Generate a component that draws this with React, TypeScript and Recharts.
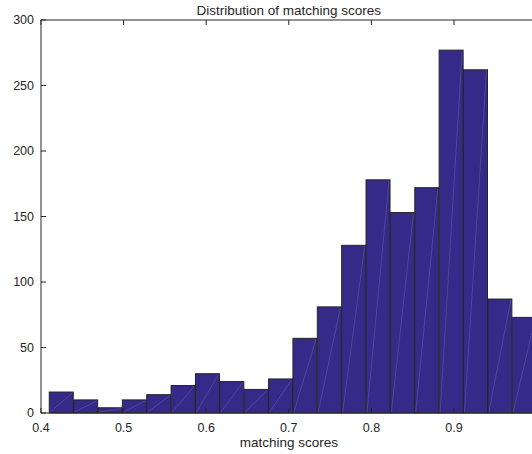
import React from 'react';
import { ComposedChart, Bar, XAxis, YAxis, Label } from 'recharts';

// Histogram bins (centres) and counts
const binCenters = [
  0.42475, 0.45425, 0.48375, 0.51325, 0.54275, 0.57225, 0.60175, 0.63125,
  0.66075, 0.69025, 0.71975, 0.74925, 0.77875, 0.80825, 0.83775, 0.86725,
  0.89675, 0.92625, 0.95575, 0.98525,
];
const counts = [
  16, 10, 4, 10, 14, 21, 30, 24, 18, 26, 57, 81, 128, 178, 153, 172, 277, 262,
  87, 73,
];
const xTicks = [0.4, 0.5, 0.6, 0.7, 0.8, 0.9, 1.0];
const yTicks = [0, 50, 100, 150, 200, 250, 300];

const data = binCenters.map((x, i) => ({ x, count: counts[i] }));

const AXIS = '#262626';
const FILL = '#352a87';
const FONT = '"Liberation Sans", Arial, Helvetica, sans-serif';
const TICK_LEN = 5;
const X_MARGIN = 10;
const Y_MARGIN = 7;

// MATLAB style: ticks point into the plot area
const BottomTick = (props: any) => {
  const { x, y, payload } = props;
  const axisY = y - X_MARGIN;
  const label = payload.value === 1 ? '' : String(payload.value);
  return (
    <g>
      <line x1={x} y1={axisY} x2={x} y2={axisY - TICK_LEN} stroke={AXIS} strokeWidth={1} />
      <text x={x} y={y} dy="0.71em" textAnchor="middle" fill={AXIS} fontSize={12.5} fontFamily={FONT}>
        {label}
      </text>
    </g>
  );
};

const TopTick = (props: any) => {
  const { x, y } = props;
  return <line x1={x} y1={y} x2={x} y2={y + TICK_LEN} stroke={AXIS} strokeWidth={1} />;
};

const LeftTick = (props: any) => {
  const { x, y, payload } = props;
  const axisX = x + Y_MARGIN;
  return (
    <g>
      <line x1={axisX} y1={y} x2={axisX + TICK_LEN} y2={y} stroke={AXIS} strokeWidth={1} />
      <text x={x} y={y} dy="0.355em" textAnchor="end" fill={AXIS} fontSize={12.5} fontFamily={FONT}>
        {payload.value}
      </text>
    </g>
  );
};

// bar with the faint diagonal seam MATLAB leaves in patch faces
const HistBar = (props: any) => {
  const { x, y, width, height } = props;
  if (!height) return null;
  return (
    <g>
      <rect x={x} y={y} width={width} height={height} fill={FILL} stroke={AXIS} strokeWidth={1} />
      <line
        x1={x + 1}
        y1={y + height - 1}
        x2={x + width - 1}
        y2={y + 1}
        stroke="#7e76c4"
        strokeWidth={0.6}
        strokeOpacity={0.6}
      />
    </g>
  );
};

export default function App() {
  return (
    <div
      style={{
        position: 'absolute',
        left: 0,
        top: 0,
        width: 532,
        height: 454,
        overflow: 'hidden',
        background: '#fff',
      }}
    >
      <ComposedChart
        width={540}
        height={454}
        data={data}
        margin={{ top: 19, right: 3.4, bottom: 0, left: 0 }}
        barCategoryGap={0}
        barGap={0}
      >
        <XAxis
          xAxisId="bottom"
          dataKey="x"
          type="number"
          domain={[0.4, 1.0]}
          ticks={xTicks}
          allowDataOverflow
          height={41}
          tickSize={0}
          tickMargin={X_MARGIN}
          tickLine={false}
          tick={<BottomTick />}
          axisLine={{ stroke: AXIS, strokeWidth: 1 }}
          interval={0}
        >
          <Label
            value="matching scores"
            position="insideBottom"
            offset={7.5}
            fill={AXIS}
            fontSize={13.5}
            fontFamily={FONT}
          />
        </XAxis>
        <XAxis
          xAxisId="top"
          orientation="top"
          dataKey="x"
          type="number"
          domain={[0.4, 1.0]}
          ticks={xTicks}
          allowDataOverflow
          height={1}
          tickSize={0}
          tickMargin={0}
          tickLine={false}
          tick={<TopTick />}
          axisLine={{ stroke: AXIS, strokeWidth: 1 }}
          interval={0}
        >
          <Label
            value="Distribution of matching scores"
            position="top"
            offset={4.5}
            fill={AXIS}
            fontSize={13.5}
            fontFamily={FONT}
          />
        </XAxis>
        <YAxis
          type="number"
          domain={[0, 300]}
          ticks={yTicks}
          width={41}
          tickSize={0}
          tickMargin={Y_MARGIN}
          tickLine={false}
          tick={<LeftTick />}
          axisLine={{ stroke: AXIS, strokeWidth: 1 }}
          interval={0}
        />
        <Bar
          xAxisId="bottom"
          dataKey="count"
          shape={<HistBar />}
          isAnimationActive={false}
        />
      </ComposedChart>
    </div>
  );
}
